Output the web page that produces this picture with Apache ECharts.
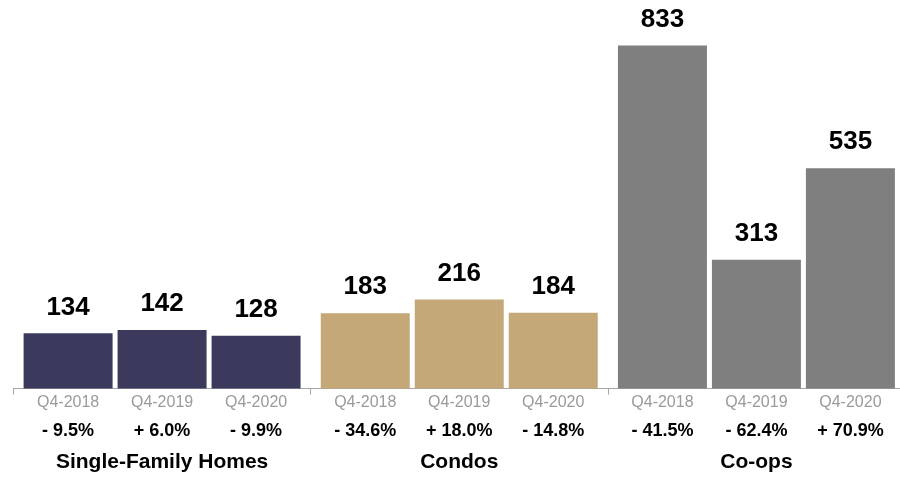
<!DOCTYPE html>
<html>
<head>
<meta charset="utf-8">
<title>Q4 Sales by Property Type</title>
<script src="https://cdn.jsdelivr.net/npm/echarts@6/dist/echarts.min.js"></script>
<style>
  html, body { margin: 0; padding: 0; background: #ffffff; overflow: hidden; }
  /* the last axis segment runs a few pixels past the visible edge */
  #chart { width: 905px; height: 477px; }
</style>
</head>
<body>
<div id="chart"></div>
<script>
// Property types along the axis
const groups = ['Single-Family Homes', 'Condos', 'Co-ops'];
// Periods shown inside each property type
const periods = ['Q4-2018', 'Q4-2019', 'Q4-2020'];
// Sales counts per period, one entry per property type
const values2018 = [134, 183, 833];
const values2019 = [142, 216, 313];
const values2020 = [128, 184, 535];
// Year-over-year change per period, one entry per property type
const change2018 = ['- 9.5%', '- 34.6%', '- 41.5%'];
const change2019 = ['+ 6.0%', '+ 18.0%', '- 62.4%'];
const change2020 = ['- 9.9%', '- 14.8%', '+ 70.9%'];

const groupColors = ['#3b3a5c', '#c4a877', '#7f7f7f'];
const FONT = "'Liberation Sans', Arial, Helvetica, sans-serif";

const periodValues = [values2018, values2019, values2020];
const periodChanges = [change2018, change2019, change2020];

const series = [];
periods.forEach(function (period, p) {
  const stackId = 'p' + p;
  // zero-height bar at the baseline that carries the period and change captions
  series.push({
    name: period + ' caption',
    type: 'bar',
    stack: stackId,
    barWidth: 89,
    barGap: '5.6%',
    silent: true,
    data: groups.map(function () { return 0; }),
    itemStyle: { color: 'transparent' },
    label: {
      show: true,
      position: 'bottom',
      distance: 2,
      fontFamily: FONT,
      formatter: function (d) {
        return '{p|' + period + '}\n{c|' + periodChanges[p][d.dataIndex] + '}';
      },
      rich: {
        p: { fontFamily: FONT, fontSize: 16, color: '#9a9a9a', lineHeight: 24, align: 'center' },
        c: { fontFamily: FONT, fontSize: 18, fontWeight: 'bold', color: '#000000', lineHeight: 34, align: 'center' }
      }
    }
  });
  // the visible bars
  series.push({
    name: period,
    type: 'bar',
    stack: stackId,
    barWidth: 89,
    barGap: '5.6%',
    data: periodValues[p].map(function (v, i) {
      return { value: v, itemStyle: { color: groupColors[i] } };
    }),
    label: {
      show: true,
      position: 'top',
      distance: 13,
      fontFamily: FONT,
      fontSize: 26,
      fontWeight: 'bold',
      color: '#000000'
    }
  });
});

const chart = echarts.init(document.getElementById('chart'), null, { renderer: 'canvas' });
chart.setOption({
  animation: false,
  backgroundColor: '#ffffff',
  grid: { left: 13.5, top: 18, right: -1, height: 370.5, containLabel: false },
  xAxis: {
    type: 'category',
    data: groups,
    axisLine: { show: true, lineStyle: { color: '#a6a6a6', width: 1 } },
    axisTick: { show: true, length: 6, lineStyle: { color: '#a6a6a6' } },
    axisLabel: {
      margin: 63,
      fontFamily: FONT,
      fontSize: 21,
      fontWeight: 'bold',
      color: '#000000'
    }
  },
  yAxis: {
    type: 'value',
    min: 0,
    max: 900,
    show: false,
    splitLine: { show: false }
  },
  series: series
});
</script>
</body>
</html>
